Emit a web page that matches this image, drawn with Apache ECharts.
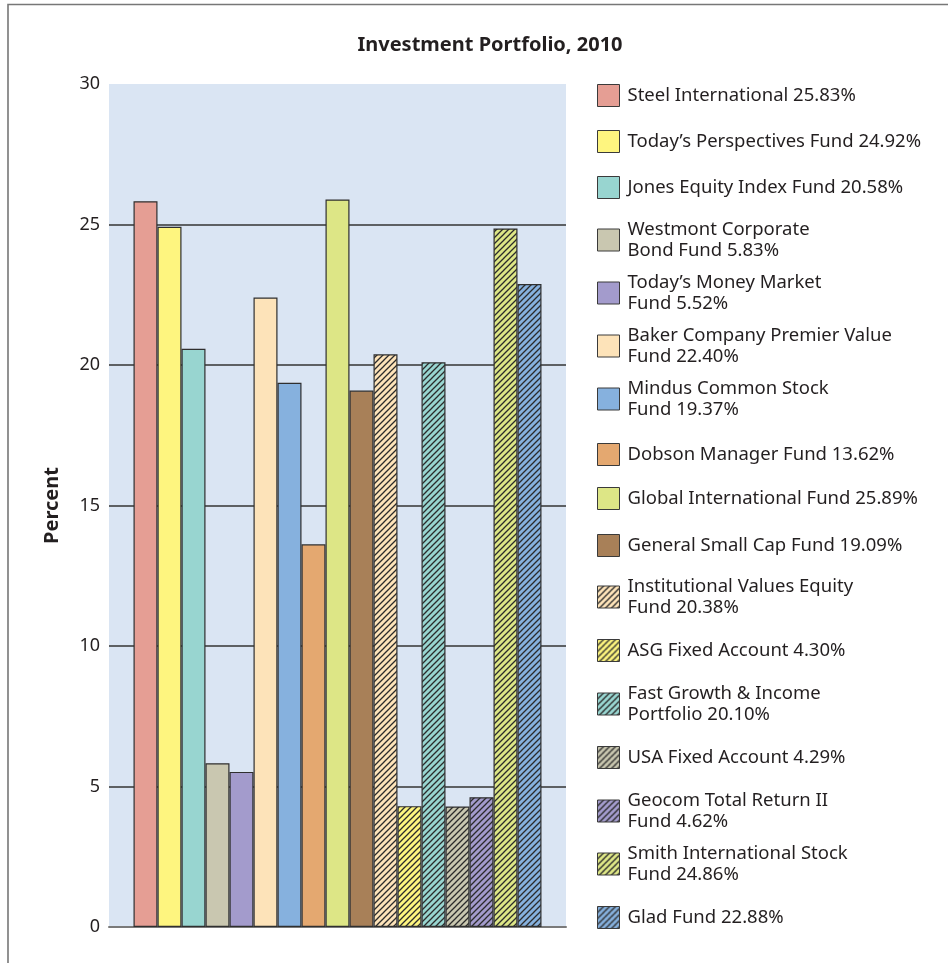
<!DOCTYPE html>
<html>
<head>
<meta charset="utf-8">
<title>Investment Portfolio, 2010</title>
<script src="https://cdn.jsdelivr.net/npm/echarts@6/dist/echarts.min.js"></script>
<style>
  html, body { margin: 0; padding: 0; background: #fff; }
  #chart { width: 948px; height: 963px; }
</style>
</head>
<body>
<div id="chart"></div>
<script>
// Fund names (line breaks mark where the legend text wraps)
const fundNames = [
  'Steel International',
  'Today\u2019s Perspectives Fund',
  'Jones Equity Index Fund',
  'Westmont Corporate\nBond Fund',
  'Today\u2019s Money Market\nFund',
  'Baker Company Premier Value\nFund',
  'Mindus Common Stock\nFund',
  'Dobson Manager Fund',
  'Global International Fund',
  'General Small Cap Fund',
  'Institutional Values Equity\nFund',
  'ASG Fixed Account',
  'Fast Growth & Income\nPortfolio',
  'USA Fixed Account',
  'Geocom Total Return II\nFund',
  'Smith International Stock\nFund',
  'Glad Fund'
];

// Share of the portfolio, percent
const fundValues = [25.83, 24.92, 20.58, 5.83, 5.52, 22.40, 19.37, 13.62, 25.89,
                    19.09, 20.38, 4.30, 20.10, 4.29, 4.62, 24.86, 22.88];

// Fill colours and whether the bar is hatched
const fundColors = ['#e59e94', '#fef57f', '#98d5d0', '#c9c7b0', '#a39bcc', '#fde3b9',
                    '#86b1de', '#e4a870', '#dde686', '#a88058',
                    '#fde3b9', '#fef57f', '#98d5d0', '#c9c7b0', '#a39bcc', '#dde686', '#86b1de'];
const fundHatched = [false, false, false, false, false, false, false, false, false, false,
                     true, true, true, true, true, true, true];

const yTicks = { min: 0, max: 30, interval: 5 };

// Vertical centre of each legend row
const legendRowCenters = [95, 141, 187, 240, 293, 346, 399, 454, 498, 545,
                          597, 650, 704, 757, 811, 864, 917];

const FONT = '"Noto Sans", "Open Sans", sans-serif';
const INK = '#231f20';
const LINE_H = 21;
const ICON = 22;

// Diagonal hatch tile over a solid fill
function hatch(color) {
  const s = 6;
  const c = document.createElement('canvas');
  c.width = s; c.height = s;
  const g = c.getContext('2d');
  g.fillStyle = color;
  g.fillRect(0, 0, s, s);
  g.strokeStyle = '#2b2b2b';
  g.lineWidth = 1.3;
  g.beginPath();
  g.moveTo(-1, s + 1); g.lineTo(s + 1, -1);
  g.moveTo(-s / 2 - 1, s / 2 + 1); g.lineTo(s / 2 + 1, -s / 2 - 1);
  g.moveTo(s / 2 - 1, s * 1.5 + 1); g.lineTo(s * 1.5 + 1, s / 2 - 1);
  g.stroke();
  return { image: c, repeat: 'repeat' };
}

const legendLabel = {};
fundNames.forEach((n, i) => { legendLabel[n] = n + ' ' + fundValues[i].toFixed(2) + '%'; });

const series = fundNames.map((name, i) => ({
  name: name,
  type: 'bar',
  barWidth: 24,
  barGap: '0%',
  data: [fundValues[i]],
  itemStyle: {
    color: fundHatched[i] ? hatch(fundColors[i]) : fundColors[i],
    borderColor: '#2f2f2f',
    borderWidth: 1.2
  },
  emphasis: { disabled: true }
}));

// One legend block per fund so each row sits at its own height
const legends = fundNames.map((name, i) => {
  const lines = name.split('\n').length;
  const h = Math.max(ICON, lines * LINE_H);
  return {
    data: [name],
    orient: 'vertical',
    left: 597,
    top: legendRowCenters[i] - h / 2,
    padding: 0,
    itemWidth: ICON,
    itemHeight: ICON,
    itemGap: 0,
    selectedMode: false,
    icon: 'rect',
    itemStyle: { borderColor: '#3a3a3a', borderWidth: 1 },
    formatter: n => legendLabel[n],
    textStyle: {
      fontFamily: FONT,
      fontSize: 18.5,
      lineHeight: LINE_H,
      color: INK,
      padding: [0, 0, 0, 3]
    }
  };
});

const chart = echarts.init(document.getElementById('chart'), null, { renderer: 'canvas' });
chart.setOption({
  animation: false,
  backgroundColor: '#ffffff',
  title: {
    text: 'Investment Portfolio, 2010',
    left: 490,
    textAlign: 'center',
    top: 35,
    padding: 0,
    textStyle: { fontFamily: FONT, fontSize: 20, fontWeight: 'bold', color: INK }
  },
  graphic: [{
    type: 'polyline',
    shape: { points: [[8, 963], [8, 4.5], [948, 4.5]] },
    style: { stroke: '#777', lineWidth: 1.6, fill: null },
    silent: true
  }],
  legend: legends,
  grid: {
    left: 109,
    right: 382,
    top: 84,
    bottom: 36,
    show: true,
    backgroundColor: '#dae5f3',
    borderWidth: 0
  },
  xAxis: {
    type: 'category',
    data: ['2010'],
    axisLabel: { show: false },
    axisTick: { show: false },
    axisLine: { show: true, lineStyle: { color: '#7a7a7a', width: 2 } },
    splitLine: { show: false }
  },
  yAxis: {
    type: 'value',
    min: yTicks.min,
    max: yTicks.max,
    interval: yTicks.interval,
    name: 'Percent',
    nameLocation: 'middle',
    nameGap: 47,
    nameTextStyle: { fontFamily: FONT, fontSize: 20, fontWeight: 'bold', color: INK },
    axisLine: { show: false },
    axisTick: { show: false },
    axisLabel: { fontFamily: FONT, fontSize: 18, color: INK, margin: 9 },
    splitLine: {
      show: true,
      showMinLine: false,
      showMaxLine: false,
      lineStyle: { color: '#333', width: 1.5 }
    }
  },
  series: series
});
</script>
</body>
</html>
